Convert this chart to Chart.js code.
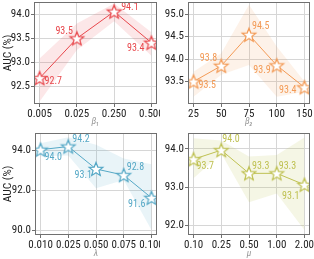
<!DOCTYPE html>
<html>
<head>
<meta charset="utf-8">
<script src="https://cdn.jsdelivr.net/npm/chart.js@4/dist/chart.umd.min.js"></script>
<style>
  body { margin: 0; background: #fff; width: 314px; height: 259px; position: relative; overflow: hidden; }
  .cell { position: absolute; }
</style>
</head>
<body>
<div class="cell" style="left:0;top:0;width:160px;height:127px"><canvas id="c1"></canvas></div>
<div class="cell" style="left:160px;top:0;width:154px;height:127px"><canvas id="c2"></canvas></div>
<div class="cell" style="left:0;top:127px;width:160px;height:132px"><canvas id="c3"></canvas></div>
<div class="cell" style="left:160px;top:127px;width:154px;height:132px"><canvas id="c4"></canvas></div>
<script>
// ---- data ----
var beta1Labels = ['0.005', '0.025', '0.250', '0.500'];
var beta1Auc    = [92.67, 93.50, 94.06, 93.41];
var beta1Upper  = [93.08, 93.81, 94.23, 93.63];
var beta1Lower  = [92.18, 93.26, 93.86, 93.14];
var beta1Text   = ['92.7', '93.5', '94.1', '93.4'];
var beta1Ticks  = [92.5, 93.0, 93.5, 94.0];

var beta2Labels = ['25', '50', '75', '100', '150'];
var beta2Auc    = [93.50, 93.85, 94.54, 93.86, 93.37];
var beta2Upper  = [93.72, 94.13, 95.21, 94.28, 93.50];
var beta2Lower  = [93.16, 93.65, 93.87, 93.16, 93.27];
var beta2Text   = ['93.5', '93.8', '94.5', '93.9', '93.4'];
var beta2Ticks  = [93.5, 94.0, 94.5, 95.0];

var lambdaLabels = ['0.010', '0.025', '0.050', '0.075', '0.100'];
var lambdaAuc    = [94.04, 94.20, 93.07, 92.76, 91.62];
var lambdaUpper  = [94.37, 94.66, 94.29, 93.60, 93.31];
var lambdaLower  = [93.70, 93.75, 92.10, 92.52, 90.00];
var lambdaText   = ['94.0', '94.2', '93.1', '92.8', '91.6'];
var lambdaTicks  = [90.0, 92.0, 94.0];

var muLabels = ['0.10', '0.25', '0.50', '1.00', '2.00'];
var muAuc    = [93.73, 93.97, 93.36, 93.36, 93.06];
var muUpper  = [94.28, 94.22, 93.80, 93.84, 94.30];
var muLower  = [93.23, 93.88, 92.60, 92.83, 91.87];
var muText   = ['93.7', '94.0', '93.3', '93.3', '93.1'];
var muTicks  = [92.0, 93.0, 94.0];

var FONT = '"Roboto Condensed", "Liberation Sans", Arial, sans-serif';

function starImage(color) {
  var cv = document.createElement('canvas');
  cv.width = 18; cv.height = 18;
  var ctx = cv.getContext('2d');
  ctx.beginPath();
  for (var i = 0; i < 10; i++) {
    var r = i % 2 === 0 ? 7.2 : 3.1;
    var a = -Math.PI / 2 + i * Math.PI / 5;
    var px = 9 + r * Math.cos(a), py = 9.6 + r * Math.sin(a);
    if (i === 0) ctx.moveTo(px, py); else ctx.lineTo(px, py);
  }
  ctx.closePath();
  ctx.fillStyle = '#fff';
  ctx.fill();
  ctx.strokeStyle = color;
  ctx.lineWidth = 1.25;
  ctx.stroke();
  return cv;
}

// frame round the plot area
var framePlugin = {
  id: 'frame',
  afterDraw: function (chart) {
    var a = chart.chartArea, ctx = chart.ctx;
    ctx.save();
    ctx.strokeStyle = '#707070';
    ctx.lineWidth = 1;
    ctx.strokeRect(Math.round(a.left) + 0.5, Math.round(a.top) + 0.5,
                   Math.round(a.right - a.left) - 1, Math.round(a.bottom - a.top) - 1);
    ctx.restore();
  }
};

// value labels next to the stars
var labelPlugin = {
  id: 'valueLabels',
  afterDatasetsDraw: function (chart, args, opts) {
    var meta = chart.getDatasetMeta(0), ctx = chart.ctx;
    ctx.save();
    ctx.font = '10px ' + FONT;
    ctx.fillStyle = opts.color;
    ctx.textBaseline = 'middle';
    meta.data.forEach(function (pt, i) {
      var off = opts.offsets[i];
      ctx.textAlign = off[0] < 0 ? 'right' : 'left';
      ctx.fillText(opts.texts[i], pt.x + off[0], pt.y + off[1]);
    });
    ctx.restore();
  }
};

// no extra room for edge tick labels, the plot box is set by hand
function noEdgePadding(s) {
  s.paddingTop = 0; s.paddingBottom = 0; s.paddingLeft = 0; s.paddingRight = 0;
}

function makePanel(id, p) {
  var pts = function (arr) { return arr.map(function (v, i) { return { x: i, y: v }; }); };
  var n = p.labels.length;
  var m = (n - 1) * 0.05;
  return new Chart(document.getElementById(id), {
    type: 'line',
    data: {
      datasets: [{
        data: pts(p.auc),
        borderColor: p.color,
        borderWidth: 1,
        pointStyle: starImage(p.color),
        pointRadius: 7,
        fill: false,
        tension: 0
      }, {
        data: pts(p.upper),
        borderWidth: 0,
        pointRadius: 0,
        backgroundColor: p.band,
        fill: '+1'
      }, {
        data: pts(p.lower),
        borderWidth: 0,
        pointRadius: 0,
        fill: false
      }]
    },
    options: {
      responsive: true,
      maintainAspectRatio: false,
      animation: false,
      events: [],
      layout: { padding: p.pad, autoPadding: false },
      plugins: {
        legend: { display: false },
        tooltip: { enabled: false },
        valueLabels: { color: p.color, texts: p.texts, offsets: p.offsets }
      },
      scales: {
        x: {
          type: 'linear',
          min: -m, max: n - 1 + m,
          afterBuildTicks: function (s) { s.ticks = p.labels.map(function (l, i) { return { value: i }; }); },
          afterFit: function (s) { s.height = p.xh; noEdgePadding(s); },
          ticks: {
            callback: function (v) { return p.labels[v]; },
            font: { family: FONT, size: 11 },
            color: '#222',
            padding: 1,
            maxRotation: 0,
            autoSkip: false
          },
          grid: { color: '#d6d6d6', tickLength: 3, tickColor: '#707070' },
          border: { display: false },
          title: {
            display: true,
            text: p.xTitle,
            font: { family: FONT, size: 9.5, style: 'italic' },
            color: '#999',
            padding: { top: 0, bottom: 0 }
          }
        },
        y: {
          min: p.yMin, max: p.yMax,
          afterBuildTicks: function (s) { s.ticks = p.yTicks.map(function (v) { return { value: v }; }); },
          afterFit: function (s) { s.width = p.yw; noEdgePadding(s); },
          ticks: {
            callback: function (v) { return v.toFixed(1); },
            font: { family: FONT, size: 11 },
            color: '#222',
            padding: 1
          },
          grid: { color: '#d6d6d6', tickLength: 3, tickColor: '#707070' },
          border: { display: false },
          title: {
            display: p.yTitle,
            text: 'AUC (%)',
            font: { family: FONT, size: 11.5 },
            color: '#222',
            padding: { top: 1, bottom: 0 }
          }
        }
      }
    },
    plugins: [framePlugin, labelPlugin]
  });
}

makePanel('c1', {
  labels: beta1Labels, auc: beta1Auc, upper: beta1Upper, lower: beta1Lower, texts: beta1Text,
  yTicks: beta1Ticks, yMin: 92.13, yMax: 94.26, xTitle: 'β₁', yTitle: true,
  color: '#e8474c', band: 'rgba(232,71,76,0.13)',
  offsets: [[5, 3], [-4, -7], [7, -4], [-7, 6]],
  pad: { left: 0, top: 2, right: 3, bottom: 0 }, yw: 34, xh: 23
});
makePanel('c2', {
  labels: beta2Labels, auc: beta2Auc, upper: beta2Upper, lower: beta2Lower, texts: beta2Text,
  yTicks: beta2Ticks, yMin: 93.0, yMax: 95.27, xTitle: 'β₂', yTitle: false,
  color: '#f39a55', band: 'rgba(243,154,85,0.13)',
  offsets: [[5, 4], [-4, -7], [3, -8], [-6, 5], [-8, 3]],
  pad: { left: 0, top: 2, right: 4, bottom: 0 }, yw: 28, xh: 23
});
makePanel('c3', {
  labels: lambdaLabels, auc: lambdaAuc, upper: lambdaUpper, lower: lambdaLower, texts: lambdaText,
  yTicks: lambdaTicks, yMin: 89.75, yMax: 94.88, xTitle: 'λ', yTitle: true,
  color: '#55a8c6', band: 'rgba(85,168,198,0.13)',
  offsets: [[4, 8], [4, -7], [-4, 7], [3, -8], [-6, 7]],
  pad: { left: 0, top: 6, right: 3, bottom: 0 }, yw: 35, xh: 24
});
makePanel('c4', {
  labels: muLabels, auc: muAuc, upper: muUpper, lower: muLower, texts: muText,
  yTicks: muTicks, yMin: 91.74, yMax: 94.42, xTitle: 'μ', yTitle: false,
  color: '#bfc152', band: 'rgba(191,193,82,0.15)',
  offsets: [[3, 7], [1, -11], [3, -7], [2, -7], [-5, 12]],
  pad: { left: 0, top: 6, right: 4, bottom: 0 }, yw: 28, xh: 24
});
</script>
</body>
</html>
